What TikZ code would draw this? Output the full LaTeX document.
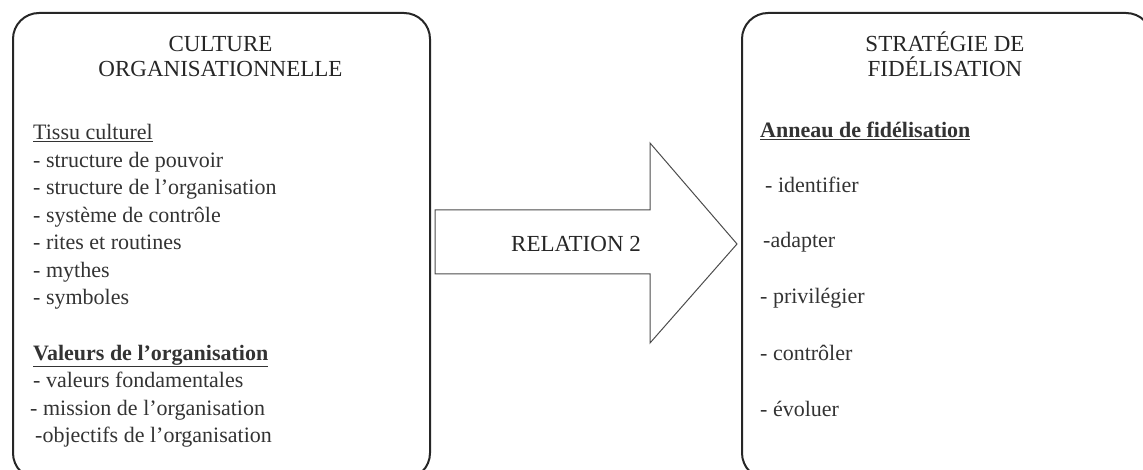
\documentclass[tikz,border=0pt]{standalone}
\usepackage{fontspec}
\setmainfont{Liberation Serif}
\begin{document}
\begin{tikzpicture}[x=1pt,y=-1pt,
  panel/.style={draw=black!85, line width=2pt, rounded corners=26pt,
    anchor=north west, inner sep=0pt},
  title/.style={anchor=base, inner sep=0pt, text=black!85,
    font=\fontsize{23}{28}\selectfont},
  item/.style={anchor=base west, inner sep=0pt, text=black!80,
    font=\fontsize{22}{27}\selectfont},
  head/.style={item, font=\fontsize{22}{27}\bfseries\selectfont},
  blockarrow/.style={draw=black!70, line width=1pt, fill=white, line join=miter}]
\useasboundingbox (0,0) rectangle (1143,470);
\clip (0,0) rectangle (1143,470);

% the two panels (their lower edges run past the page)
\node[panel, minimum width=417pt, minimum height=466pt] (culture) at (12,12) {};
\node[panel, minimum width=410pt, minimum height=466pt] (strategie) at (741,12) {};

% left panel: organisational culture
\node[title] (t1) at (220.5,52) {CULTURE};
\node[title] (t2) at (220.5,77) {ORGANISATIONNELLE};
\node[item] (tissu) at (33,140) {\underline{Tissu culturel}};
\node[item] (c1) at (33,167.5) {- structure de pouvoir};
\node[item] (c2) at (33,195) {- structure de l'organisation};
\node[item] (c3) at (33,222.5) {- système de contrôle};
\node[item] (c4) at (33,250) {- rites et routines};
\node[item] (c5) at (33,277.5) {- mythes};
\node[item] (c6) at (33,305) {- symboles};
\node[head] (valeurs) at (33,360) {\underline{Valeurs de l'organisation}};
\node[item] (v1) at (33,387.5) {- valeurs fondamentales};
\node[item] (v2) at (30,415) {- mission de l'organisation};
\node[item] (v3) at (35,442.5) {-objectifs de l'organisation};

% right panel: loyalty strategy
\node[title] (s1) at (945,52) {STRATÉGIE DE};
\node[title] (s2) at (945,77) {FIDÉLISATION};
\node[head] (anneau) at (760,138) {\underline{Anneau de fidélisation}};
\node[item] (a1) at (765,193) {- identifier};
\node[item] (a2) at (763,248) {-adapter};
\node[item] (a3) at (760,304) {- privilégier};
\node[item] (a4) at (760,360) {- contrôler};
\node[item] (a5) at (760,416) {- évoluer};

% block arrow between the panels
\coordinate (tip) at (737,244);
\draw[blockarrow] (435,210) -- (650,210) -- (650,143) -- (tip)
  -- (650,343) -- (650,274) -- (435,274) -- cycle;
\node[title, anchor=center] (relation) at (576,244) {RELATION 2};
\end{tikzpicture}
\end{document}
